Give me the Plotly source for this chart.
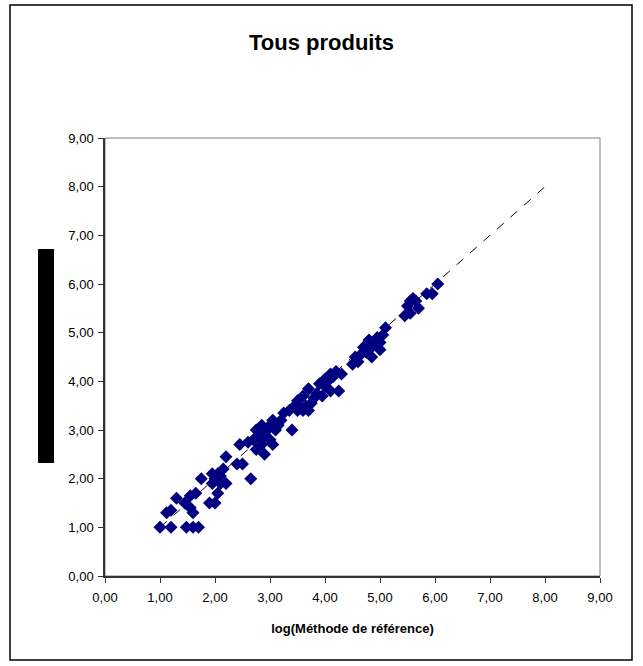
import plotly.graph_objects as go

# Data
x_ref = [1.00, 1.20, 1.48, 1.60, 1.70,
         1.12, 1.20, 1.30, 1.45, 1.55, 1.60, 1.55, 1.65, 1.75,
         1.90, 2.00, 2.05, 1.95, 2.00, 2.05, 2.10, 2.15, 1.95, 2.20, 2.20, 2.10,
         2.40, 2.50, 2.45, 2.60, 2.65, 2.70, 2.75, 2.80, 2.85, 2.90, 2.85, 2.95,
         3.00, 3.05, 3.00, 3.10, 3.05, 3.15, 2.75, 2.90, 3.20, 3.25, 3.35, 3.40,
         3.45, 3.50, 3.55, 3.60, 3.65, 3.70, 3.70, 3.75, 3.80, 3.60, 3.50, 3.85,
         3.95, 4.00, 4.05, 4.10, 4.15, 4.20, 4.25, 4.30, 4.00, 3.90, 4.10,
         4.50, 4.55, 4.60, 4.65, 4.75, 4.80, 4.85, 4.85, 4.90, 4.95, 5.00, 5.05,
         5.10, 4.70, 5.00,
         5.45, 5.50, 5.55, 5.60, 5.65, 5.70, 5.85, 5.95, 6.05, 5.55]
y_meas = [1.00, 1.00, 1.00, 1.00, 1.00,
          1.30, 1.35, 1.60, 1.50, 1.40, 1.30, 1.65, 1.70, 2.00,
          1.50, 1.50, 1.70, 1.90, 2.00, 2.10, 1.90, 2.20, 2.10, 1.90, 2.45, 2.05,
          2.30, 2.30, 2.70, 2.75, 2.00, 2.80, 3.00, 2.85, 2.70, 2.50, 3.10, 3.00,
          2.80, 2.70, 3.10, 3.00, 3.20, 3.10, 2.60, 2.90, 3.20, 3.35, 3.40, 3.00,
          3.50, 3.60, 3.45, 3.70, 3.50, 3.40, 3.85, 3.55, 3.65, 3.40, 3.40, 3.75,
          3.70, 3.90, 4.00, 3.80, 4.10, 4.20, 3.80, 4.15, 4.05, 3.95, 4.15,
          4.35, 4.50, 4.40, 4.55, 4.60, 4.85, 4.50, 4.70, 4.75, 4.90, 4.80, 4.95,
          5.10, 4.70, 4.65,
          5.35, 5.55, 5.40, 5.70, 5.65, 5.50, 5.80, 5.80, 6.00, 5.65]
line_x = [1.0, 8.0]
line_y = [1.0, 8.0]
tick_vals = [0, 1, 2, 3, 4, 5, 6, 7, 8, 9]

FONT = "Liberation Sans, Arial"

fig = go.Figure()
fig.add_trace(go.Scatter(x=line_x, y=line_y, mode="lines",
                         line=dict(color="black", width=1, dash="dash"),
                         hoverinfo="skip", showlegend=False))
fig.add_trace(go.Scatter(x=x_ref, y=y_meas, mode="markers",
                         marker=dict(symbol="diamond", size=10, color="#000080",
                                     line=dict(width=0)),
                         showlegend=False))

axis_common = dict(range=[0, 9], tickvals=tick_vals, tickformat=".2f",
                   showgrid=False, zeroline=False, showline=True,
                   linecolor="#333333", linewidth=1.5, ticks="outside",
                   ticklen=5, tickcolor="#333333",
                   tickfont=dict(family=FONT, size=13, color="black"))

fig.update_layout(
    width=643, height=666,
    margin=dict(l=105, r=43, t=138, b=90),
    paper_bgcolor="white", plot_bgcolor="white",
    separators=", ",
    title=dict(text="<b>Tous produits</b>", x=0.5, xref="container", xanchor="center",
               y=1 - 42 / 666, yref="container", yanchor="middle",
               font=dict(family=FONT, size=22, color="black")),
    xaxis=dict(**axis_common, ticklabelstandoff=4,
               title=dict(text="<b>log(Méthode de référence)</b>", standoff=20,
                          font=dict(family=FONT, size=13, color="black"))),
    yaxis=dict(**axis_common, ticklabelstandoff=2),
    shapes=[
        dict(type="rect", xref="paper", yref="paper", x0=0, x1=1, y0=0, y1=1,
             line=dict(color="#808080", width=1), layer="below"),
        dict(type="rect", xref="paper", yref="paper",
             x0=(10 - 105) / 495, x1=(632 - 105) / 495,
             y0=(576 - 660) / 438, y1=(576 - 5) / 438,
             line=dict(color="black", width=1.5)),
        dict(type="rect", xref="paper", yref="paper",
             x0=(38 - 105) / 495, x1=(54 - 105) / 495,
             y0=(576 - 463) / 438, y1=(576 - 249) / 438,
             fillcolor="black", line=dict(width=0)),
    ],
)

fig.write_html("out.html")
